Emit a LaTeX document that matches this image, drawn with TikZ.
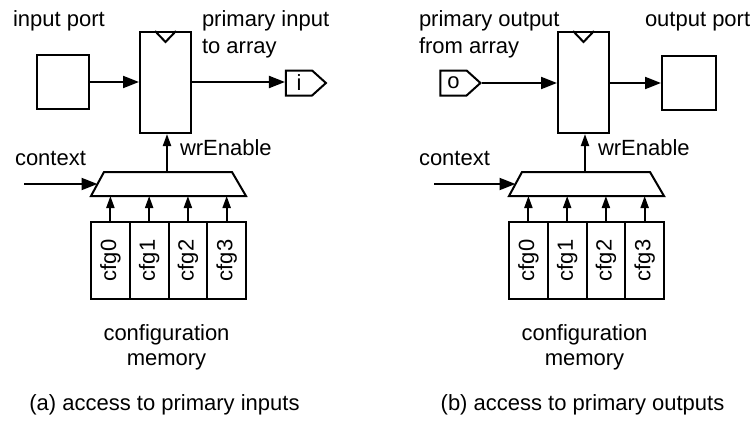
\documentclass[tikz,border=0pt]{standalone}
\usepackage{fontspec}
\setmainfont{Liberation Sans}
\usetikzlibrary{arrows.meta,shapes.symbols}

\tikzset{
  wire/.style={line width=2pt},
  lbl/.style={inner sep=0pt,outer sep=0pt,font=\fontsize{22}{25}\selectfont},
  portbox/.style={draw,wire,inner sep=0pt,minimum width=52pt,minimum height=54pt},
  regbox/.style={draw,wire,inner sep=0pt,minimum width=51pt,minimum height=101pt},
  cfgbox/.style={draw,wire,inner sep=0pt,minimum width=38.75pt,minimum height=77pt},
  tagbox/.style={draw,wire,signal,signal to=east,signal pointer angle=84,inner sep=0pt,
    minimum height=25pt,minimum width=40pt,font=\fontsize{22}{25}\selectfont},
  bigarrow/.style={wire,-{Triangle[length=16pt,width=12pt]}},
  smallarrow/.style={wire,-{Triangle[length=12pt,width=8pt]}},
  % register with enable, its selector and the configuration memory
  ctrlunit/.pic={
    \node[regbox] (reg) at (165.5,82.5) {};
    \draw[wire,line join=miter] ([xshift=-10.5pt]reg.north) -- ([yshift=-11pt]reg.north)
      -- ([xshift=10.5pt]reg.north);
    \coordinate (muxtl) at (104,172);
    \coordinate (muxtr) at (232,172);
    \coordinate (muxbr) at (246,196);
    \coordinate (muxbl) at (91,196);
    \coordinate (muxin) at (97.5,184);
    \draw[wire,line join=miter] (muxtl) -- (muxtr) -- (muxbr) -- (muxbl) -- cycle;
    \foreach \i in {0,...,3}{
      \node[cfgbox] (cfg\i) at (110.4+38.75*\i,260.5) {};
      \node[lbl,rotate=90] at (cfg\i.center) {cfg\i};
      \draw[smallarrow] (cfg\i.north) -- (cfg\i.north |- muxbl);
    }
    \coordinate (wr) at (167,172);
    \draw[smallarrow] (wr) -- (wr |- reg.south);
    \node[lbl,anchor=base west] (wrlbl) at (180,155) {wrEnable};
    \node[lbl,anchor=base] (cm1) at (166.5,340) {configuration};
    \node[lbl,anchor=base] (cm2) at (166.5,365) {memory};
  }
}

\begin{document}
\begin{tikzpicture}[x=1pt,y=-1pt]
  \useasboundingbox (0,0) rectangle (754,428);

  % (a) primary inputs
  \pic (a-) at (0,0) {ctrlunit};
  \node[portbox] (inport) at (62.5,82) {};
  \node[tagbox] (itag) at (299,83) {i};
  \draw[bigarrow] (inport.east) -- (inport.east -| a-reg.west);
  \draw[bigarrow] (a-reg.east |- inport.east) -- (inport.east -| itag.west);
  \coordinate (ctxa) at (24,184);
  \draw[bigarrow] (ctxa) -- (a-muxin);
  \node[lbl,anchor=base west] (la1) at (13,27) {input port};
  \node[lbl,anchor=base west] (la2) at (202,27) {primary input};
  \node[lbl,anchor=base west] (la3) at (202,53) {to array};
  \node[lbl,anchor=base west] (la4) at (15,165) {context};
  \node[lbl,anchor=base] (capa) at (164.5,410) {(a) access to primary inputs};

  % (b) primary outputs
  \pic (b-) at (418,0) {ctrlunit};
  \node[tagbox] (otag) at (453.5,83) {o};
  \node[portbox,minimum width=54pt] (outport) at (689,83) {};
  \draw[bigarrow] (otag.east) -- (otag.east -| b-reg.west);
  \draw[bigarrow] (b-reg.east |- outport.west) -- (outport.west);
  \coordinate (ctxb) at (434,184);
  \draw[bigarrow] (ctxb) -- (b-muxin);
  \node[lbl,anchor=base west] (lb1) at (419,27) {primary output};
  \node[lbl,anchor=base west] (lb2) at (419,53) {from array};
  \node[lbl,anchor=base west] (lb3) at (645,27) {output port};
  \node[lbl,anchor=base west] (lb4) at (419,165) {context};
  \node[lbl,anchor=base] (capb) at (582.5,410) {(b) access to primary outputs};
\end{tikzpicture}
\end{document}
